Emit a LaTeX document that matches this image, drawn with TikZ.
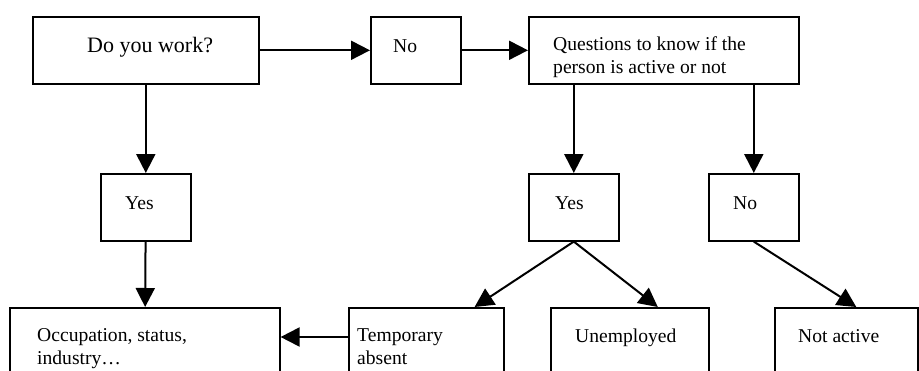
\documentclass[tikz,border=0pt]{standalone}
\usepackage{fontspec}
\setmainfont{Liberation Serif}
\usetikzlibrary{arrows.meta,positioning}

\begin{document}
\begin{tikzpicture}[x=1pt,y=-1pt]
  \tikzstyle{box} = [rectangle, draw, line width=1.6pt, anchor=north west, inner sep=0pt, minimum height=67pt]
  \tikzstyle{tall} = [box, minimum height=100pt]
  \tikzstyle{txt} = [anchor=base west, inner sep=0pt, align=left, font=\fontsize{19.6}{23}\selectfont]
  \tikzstyle{link} = [draw, line width=2pt, -{Triangle[length=19pt,width=19pt]}]
\clip (0,0) rectangle (919,370);
% boxes
\node [box, minimum width=226pt] (work) at (32,16) {};
\node [box, minimum width=90pt] (no1) at (370,16) {};
\node [box, minimum width=270pt] (quest) at (528,16) {};
\node [box, minimum width=90pt] (yes1) at (100,173) {};
\node [box, minimum width=90pt] (yes2) at (528,173) {};
\node [box, minimum width=90pt] (no2) at (708,173) {};
\node [tall, minimum width=270pt] (occ) at (9,307) {};
\node [tall, minimum width=155pt] (temp) at (348,307) {};
\node [tall, minimum width=158pt] (unemp) at (550,307) {};
\node [tall, minimum width=143pt] (notact) at (774,307) {};
% texts (multi-line ones sit on their last baseline)
\node [txt, font=\fontsize{22}{26}\selectfont] (workt) at (87,52) {Do you work?};
\node [txt] (no1t) at (393,52) {No};
\node [txt] (questt) at (553,73) {Questions to know if the\\person is active or not};
\node [txt] (yes1t) at (125,209) {Yes};
\node [txt] (yes2t) at (555,209) {Yes};
\node [txt] (no2t) at (733,209) {No};
\node [txt] (occt) at (37,364) {Occupation, status,\\industry\ldots};
\node [txt] (tempt) at (357,364) {Temporary\\absent};
\node [txt] (unempt) at (575,342) {Unemployed};
\node [txt] (notactt) at (798,342) {Not active};
% arrows
\path [link] (work) -- (no1);
\path [link] (no1) -- (quest);
\path [link] (work) -- (yes1);
\path [link] (quest.south -| yes2.north) -- (yes2.north);
\path [link] (quest.south -| no2.north) -- (no2.north);
\path [link] (yes1) -- (occ);
\path [link] ([yshift=-30pt]temp.north west) -- ([yshift=-30pt]occ.north east);
\path [link] (yes2.south) -- ([xshift=-30pt]temp.north east);
\path [link] (yes2.south) -- ([xshift=28pt]unemp.north);
\path [link] (no2.south) -- ([xshift=10pt]notact.north);
\end{tikzpicture}
\end{document}
